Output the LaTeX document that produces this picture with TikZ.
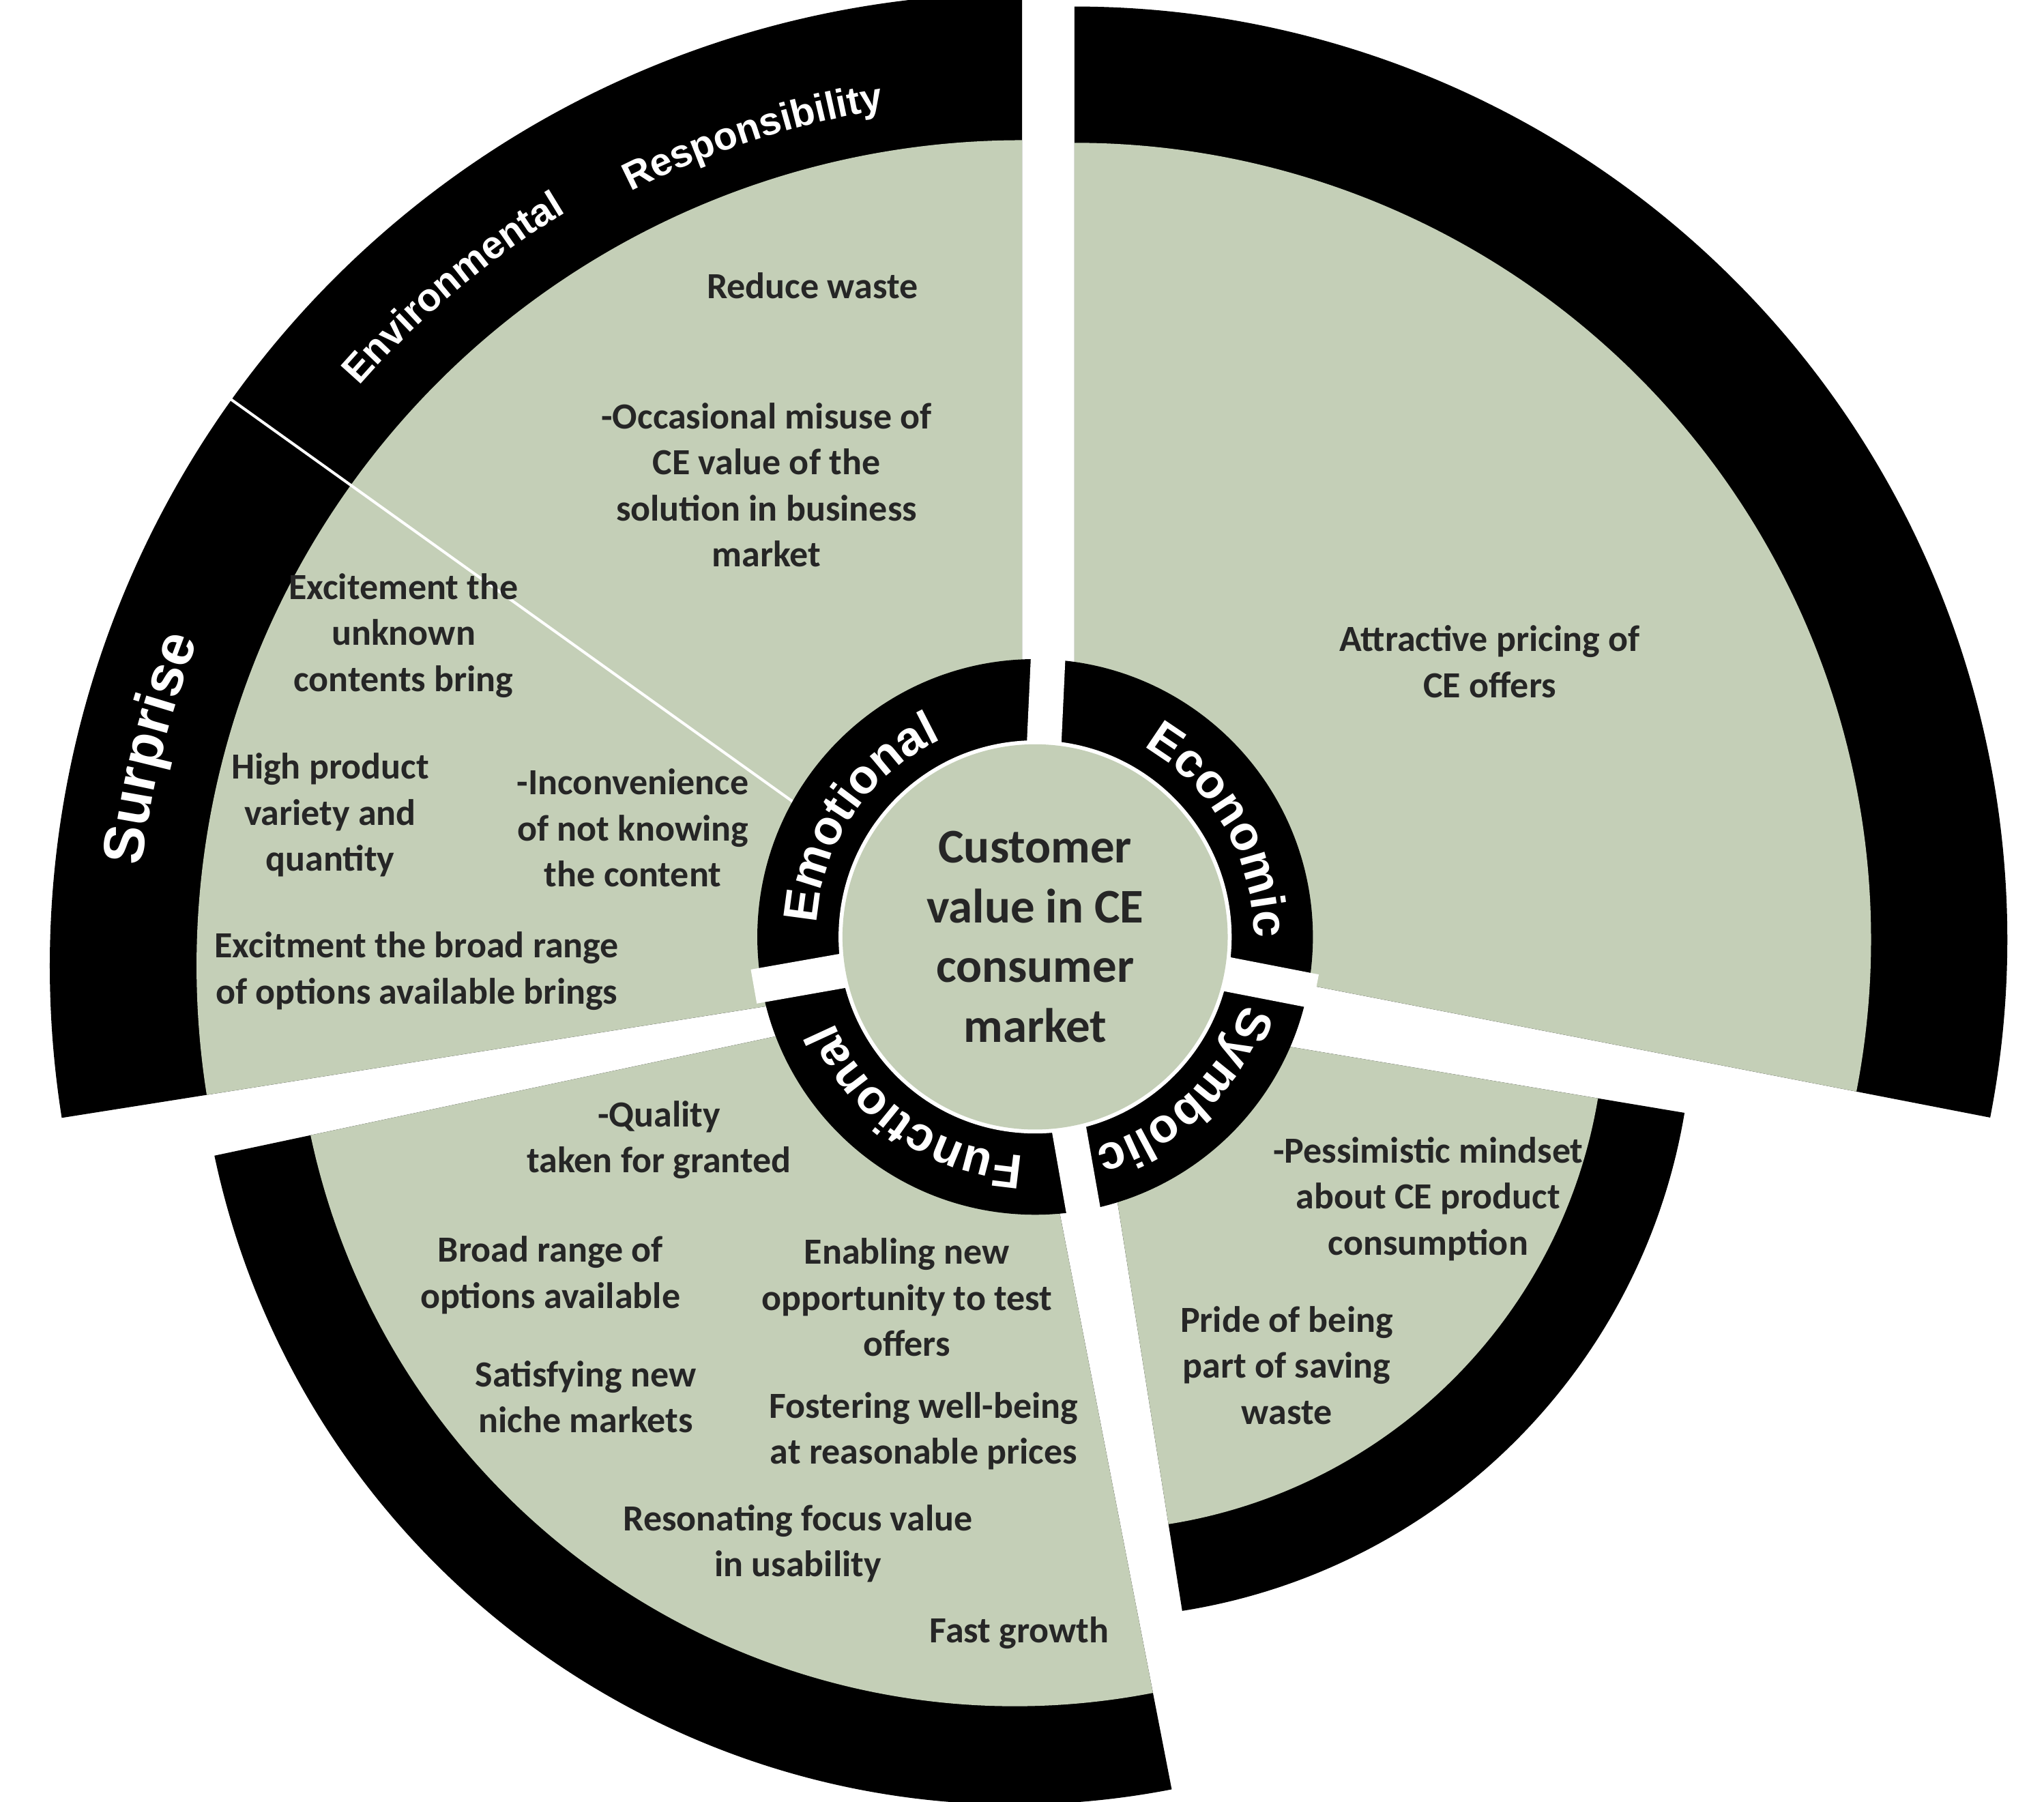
\documentclass[tikz,border=0pt]{standalone}
\usepackage{fontspec}
\setmainfont{Carlito}
\newfontfamily\arialf{Liberation Sans}
\usetikzlibrary{decorations.text,calc}
\definecolor{sage}{RGB}{196,207,183}
\tikzset{
  lab/.style={font=\fontsize{16}{20}\selectfont\bfseries, align=center, text=black!85},
  ringtxt/.style={decorate, decoration={text along path, text align=center,
     text={|\arialf\fontsize{21}{21}\selectfont\bfseries\color{white}|#1}}},
}
\newcommand{\wedgeat}[5]{% apex, a1, a2, Rg, Rb
  \fill[black] (#1) -- ++(#2:#5) arc[start angle=#2,end angle=#3,radius=#5] -- cycle;
  \fill[sage] (#1) -- ++(#2:#4) arc[start angle=#2,end angle=#3,radius=#4] -- cycle;
}
\begin{document}
\begin{tikzpicture}[x=0.02cm,y=0.02cm]
\useasboundingbox (0,0) rectangle (1560,1375);
\coordinate (C) at (790,660);
\coordinate (Eco) at (820,658);
\coordinate (Emo) at (780,638);
\coordinate (Fun) at (775,623);
\coordinate (Sym) at (830,602);
\wedgeat{Eco}{-11}{90}{608}{712}
\wedgeat{Emo}{90}{189}{630}{742}
\wedgeat{Fun}{192}{281}{550}{625}
\wedgeat{Sym}{279}{350.5}{395}{462}
% divider line
\draw[white, line width=1.2pt] (Emo) ++(144.4:215) -- ++(144.4:535);
% hub
\fill[black] (C) circle[radius=212];
\fill[white] (C) circle[radius=150];
\draw[white, line width=15pt] (C) -- (800,875);
\draw[white, line width=15pt] (C) -- ($(C)+(-11:218)$);
\draw[white, line width=15pt] (C) -- ($(C)+(-80:218)$);
\draw[white, line width=15pt] (C) -- ($(C)+(190:218)$);
\fill[sage] (C) circle[radius=147];
% ring labels
\path[ringtxt={Emotional}] (C) ++(192:167) arc[start angle=192,end angle=100,radius=167];
\path[ringtxt={Economic}] (C) ++(72:167) arc[start angle=72,end angle=-12,radius=167];
\path[ringtxt={Symbolic}] (C) ++(-12:167) arc[start angle=-12,end angle=-80,radius=167];
\path[ringtxt={Functional}] (C) ++(-78:167) arc[start angle=-78,end angle=-172,radius=167];
% band labels
\path[decorate, decoration={text along path, text align=center,
  text={|\arialf\fontsize{25}{25}\selectfont\bfseries\color{white}|Surprise}}]
  (Emo) ++(186:676) arc[start angle=186,end angle=146,radius=676];
\path[decorate, decoration={text along path, text align=center,
  text={|\arialf\fontsize{17}{17}\selectfont\bfseries\color{white}|Environmental}}]
  (Emo) ++(142:672) arc[start angle=142,end angle=118,radius=672];
\path[decorate, decoration={text along path, text align=center,
  text={|\arialf\fontsize{17}{17}\selectfont\bfseries\color{white}|Responsibility}}]
  (Emo) ++(121:662) arc[start angle=121,end angle=95,radius=662];
% center
\node[font=\fontsize{21}{26}\selectfont\bfseries, align=center, text=black!85] (ctr) at (C) {Customer\\value in CE\\consumer\\market};
% texts
\node[lab] (t1) at (620,1157) {Reduce waste};
\node[lab] (t2) at (585,1005) {-Occasional misuse of\\CE value of the\\solution in business\\market};
\node[lab] (t3) at (308,890) {Excitement the\\unknown\\contents bring};
\node[lab] (t4) at (252,753) {High product\\variety and\\quantity};
\node[lab] (t5) at (483,743) {-Inconvenience\\of not knowing\\the content};
\node[lab] (t6) at (318,634) {Excitment the broad range\\of options available brings};
\node[lab] (t7) at (1137,870) {Attractive pricing of\\CE offers};
\node[lab] (t8) at (503,505) {-Quality\\taken for granted};
\node[lab] (t9) at (420,402) {Broad range of\\options available};
\node[lab] (t10) at (692,385) {Enabling new\\opportunity to test\\offers};
\node[lab] (t11) at (447,309) {Satisfying new\\niche markets};
\node[lab] (t12) at (705,283) {Fostering well-being\\at reasonable prices};
\node[lab] (t13) at (609,197) {Resonating focus value\\in usability};
\node[lab] (t14) at (778,129) {Fast growth};
\node[lab] (t15) at (1090,460) {-Pessimistic mindset\\about CE product\\consumption};
\node[lab] (t16) at (982,333) {Pride of being\\part of saving\\waste};
\end{tikzpicture}
\end{document}
